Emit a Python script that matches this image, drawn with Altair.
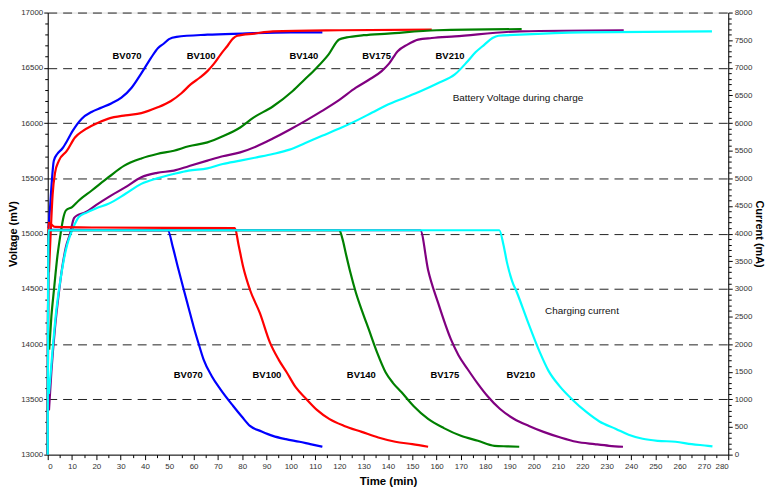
import altair as alt
import pandas as pd

# ---------------- data ----------------
series = ["BV070", "BV100", "BV140", "BV175", "BV210"]
colors = ["#0000FF", "#FF0000", "#008000", "#800080", "#00FFFF"]

# Battery voltage (mV) vs time (min)
v_t = {
    "BV070": [0.3, 1.0, 1.6, 2.5, 3.9, 6.0, 8.0, 10.0, 14.0, 18.0, 22.2, 26.3, 30.3, 34.5, 38.5,
              42.5, 45.4, 47.8, 49.9, 53.0, 65.7, 80.0, 100.0, 113.0],
    "BV100": [0.5, 1.2, 2.0, 3.0, 4.6, 7.9, 11.2, 14.5, 18.1, 25.0, 32.0, 38.5, 45.0, 50.7, 55.0,
              58.8, 62.5, 65.7, 68.5, 71.1, 74.0, 76.3, 78.0, 85.0, 92.6, 120.0, 158.0],
    "BV140": [0.6, 1.5, 2.6, 4.0, 5.3, 6.5, 7.5, 10.0, 12.8, 18.1, 25.0, 31.5, 38.5, 45.0, 51.9,
              58.0, 65.7, 72.0, 79.2, 84.5, 92.6, 100.8, 105.5, 110.5, 115.5, 119.9, 123.0, 130.0,
              140.0, 160.0, 195.0],
    "BV175": [0.5, 1.5, 3.0, 4.5, 6.0, 7.5, 9.2, 10.8, 12.5, 15.3, 20.0, 25.0, 32.0, 38.5, 45.0,
              51.9, 58.0, 65.7, 72.0, 79.2, 86.0, 92.6, 99.5, 106.0, 112.9, 120.0, 126.8, 132.0,
              137.4, 140.5, 144.0, 148.0, 152.4, 158.0, 167.5, 194.3, 237.0],
    "BV210": [0.5, 2.0, 3.5, 5.0, 6.5, 8.0, 9.5, 11.0, 12.8, 16.0, 20.0, 25.0, 32.0, 38.5, 45.0,
              51.9, 58.0, 65.7, 72.0, 79.2, 86.0, 92.6, 99.5, 106.0, 112.9, 120.0, 126.8, 133.5,
              140.2, 147.0, 153.6, 160.5, 167.5, 172.8, 176.0, 179.7, 183.0, 185.5, 194.3, 220.0,
              273.3],
}
v_mv = {
    "BV070": [15050, 15250, 15450, 15660, 15720, 15770, 15840, 15920, 16040, 16100, 16140, 16180,
              16230, 16320, 16450, 16590, 16680, 16720, 16760, 16780, 16800, 16810, 16820, 16820],
    "BV100": [14650, 15000, 15350, 15550, 15660, 15750, 15870, 15930, 15975, 16040, 16070, 16090,
              16140, 16200, 16270, 16350, 16410, 16470, 16540, 16620, 16700, 16766, 16790, 16810,
              16830, 16840, 16845],
    "BV140": [13950, 14250, 14500, 14800, 15000, 15150, 15210, 15240, 15300, 15390, 15510, 15615,
              15680, 15720, 15750, 15790, 15825, 15880, 15960, 16047, 16150, 16290, 16390, 16497,
              16620, 16757, 16775, 16795, 16810, 16840, 16850],
    "BV175": [13400, 13750, 14150, 14450, 14700, 14880, 15000, 15140, 15170, 15190, 15260, 15330,
              15420, 15510, 15550, 15570, 15610, 15660, 15700, 15735, 15790, 15860, 15940, 16020,
              16110, 16210, 16320, 16390, 16470, 16540, 16650, 16710, 16755, 16770, 16785, 16830,
              16840],
    "BV210": [13550, 13950, 14300, 14550, 14750, 14900, 15000, 15080, 15150, 15190, 15230, 15270,
              15360, 15450, 15500, 15540, 15570, 15590, 15630, 15660, 15690, 15720, 15760, 15820,
              15885, 15950, 16020, 16095, 16170, 16230, 16290, 16360, 16440, 16560, 16640, 16710,
              16770, 16790, 16800, 16820, 16830],
}

# Charging current (mA) vs time (min)
i_t = {
    "BV070": [0, 0.25, 49.4, 51.5, 53.5, 56, 58, 60, 62, 64.1, 67.5, 71, 76.3, 80, 83.2, 88, 92.6,
              98, 103.6, 108, 113],
    "BV100": [0, 0.3, 3, 20, 77, 78.5, 80.4, 83.2, 87.3, 91.4, 95, 98.3, 102, 106.4, 111, 115.8,
              122, 129.2, 136, 143, 150, 156.5],
    "BV140": [0, 0.3, 120, 121.3, 122.6, 124.5, 126.8, 129.5, 132.1, 135.5, 139, 142, 145.5,
              150.5, 156.5, 163, 170, 177, 183.8, 189, 194],
    "BV175": [0, 0.3, 153.3, 156.5, 160.6, 165.9, 169, 172.8, 177, 180.9, 186, 191.9, 198, 204,
              211, 217.5, 225, 231, 236.7],
    "BV210": [0, 0.3, 185.8, 187.5, 189, 191, 193.1, 197.2, 202.5, 206, 210.6, 216, 221.6, 227,
              233.8, 239, 244.8, 251, 258.3, 265, 271.7, 273.5],
}
i_ma = {
    "BV070": [0, 4070, 4060, 3750, 3400, 2980, 2650, 2320, 2020, 1725, 1420, 1186, 880, 680, 520,
              420, 340, 280, 233, 190, 143],
    "BV100": [0, 4200, 4120, 4110, 4100, 3800, 3400, 2984, 2560, 2031, 1720, 1491, 1220, 1006,
              800, 646, 520, 412, 310, 233, 190, 143],
    "BV140": [0, 4060, 4060, 3900, 3650, 3300, 2930, 2580, 2265, 1850, 1491, 1300, 1132, 880,
              646, 480, 340, 250, 160, 150, 143],
    "BV175": [0, 4060, 4060, 3343, 2750, 2085, 1800, 1545, 1280, 1060, 830, 646, 520, 412, 310,
              233, 190, 160, 143],
    "BV210": [0, 4060, 4060, 3800, 3470, 3150, 2930, 2444, 1850, 1520, 1240, 990, 772, 600, 466,
              360, 287, 250, 233, 190, 160, 150],
}

# in-plot labels
top_labels = ["BV070", "BV100", "BV140", "BV175", "BV210"]
top_label_t = [32.6, 63.1, 105.4, 135.3, 165.5]
top_label_v = [16604, 16604, 16604, 16604, 16604]
bottom_labels = ["BV070", "BV100", "BV140", "BV175", "BV210"]
bottom_label_t = [57.8, 90.2, 129.0, 163.4, 194.7]
bottom_label_v = [13719, 13719, 13719, 13719, 13719]
captions = ["Battery Voltage during charge", "Charging current"]
caption_t = [193.5, 219.8]
caption_v = [16227, 14297]

# axis ticks
x_ticks = list(range(0, 281, 5))
v_ticks = list(range(13000, 17001, 100))
i_ticks = list(range(0, 8001, 100))

# ---------------- tables ----------------
rows_v, rows_i = [], []
for s in series:
    for k, (t, v) in enumerate(zip(v_t[s], v_mv[s])):
        rows_v.append({"series": s, "t": t, "v": v, "idx": k})
    for k, (t, i) in enumerate(zip(i_t[s], i_ma[s])):
        rows_i.append({"series": s, "t": t, "i": i, "idx": k})
df_v = pd.DataFrame(rows_v)
df_i = pd.DataFrame(rows_i)
df_lab = pd.DataFrame({"text": top_labels + bottom_labels,
                       "t": top_label_t + bottom_label_t,
                       "v": top_label_v + bottom_label_v})
df_cap = pd.DataFrame({"text": captions, "t": caption_t, "v": caption_v})

TICK_FONT = "Liberation Sans Narrow, Liberation Sans, Arial, sans-serif"
FONT = "Liberation Sans, Arial, sans-serif"

x_scale = alt.Scale(domain=[0, 280], nice=False, zero=False)
v_scale = alt.Scale(domain=[13000, 17000], nice=False, zero=False)
i_scale = alt.Scale(domain=[0, 8000], nice=False, zero=False)
color = alt.Color("series:N", scale=alt.Scale(domain=series, range=colors), legend=None)

x_axis = alt.Axis(
    values=x_ticks, format="d",
    labelExpr="datum.value % 10 === 0 ? datum.label : ''",
    tickSize={"condition": {"test": "datum.value % 10 === 0", "value": 5}, "value": 3},
    labelOverlap=False, labelFont=TICK_FONT, labelFontSize=8, labelColor="#333333",
    labelPadding=3, grid=False, domainColor="black", tickColor="black",
    titleFont=FONT, titleFontSize=11.5, titleFontWeight="bold", titleColor="black",
    titlePadding=5,
)
v_axis = alt.Axis(
    values=v_ticks, format="d",
    labelExpr="datum.value % 500 === 0 ? datum.label : ''",
    tickSize={"condition": {"test": "datum.value % 500 === 0", "value": 4}, "value": 3},
    labelOverlap=False, labelFont=TICK_FONT, labelFontSize=8, labelColor="#333333",
    labelPadding=1, domainColor="black", tickColor="black",
    grid=True, gridColor="#222222", gridDash=[9, 6], gridWidth=1,
    gridOpacity={"condition": {"test": "datum.value % 500 === 0 && datum.value > 13000", "value": 1},
                 "value": 0},
    titleFont=FONT, titleFontSize=11, titleFontWeight="bold", titleColor="black",
    titlePadding=2,
)
i_axis = alt.Axis(
    orient="right", values=i_ticks, format="d",
    labelExpr="datum.value % 500 === 0 ? datum.label : ''",
    tickSize={"condition": {"test": "datum.value % 500 === 0", "value": 4}, "value": 3},
    labelOverlap=False, labelFont=TICK_FONT, labelFontSize=8, labelColor="#333333",
    labelPadding=2, domainColor="black", tickColor="black", grid=False,
    titleFont=FONT, titleFontSize=11, titleFontWeight="bold", titleColor="black",
    titlePadding=2,
)

X = alt.X("t:Q", scale=x_scale, axis=x_axis, title="Time (min)")

volt = alt.Chart(df_v).mark_line(strokeWidth=2.2, interpolate="monotone").encode(
    x=X,
    y=alt.Y("v:Q", scale=v_scale, axis=v_axis, title="Voltage (mV)"),
    color=color, detail="series:N", order="idx:Q",
)
curr = alt.Chart(df_i).mark_line(strokeWidth=2.2, interpolate="monotone").encode(
    x=X,
    y=alt.Y("i:Q", scale=i_scale, axis=i_axis, title="Current (mA)"),
    color=color, detail="series:N", order="idx:Q",
)
labels = alt.Chart(df_lab).mark_text(font=FONT, fontSize=9.5, fontWeight="bold", color="black",
                                     align="center", baseline="middle").encode(
    x=X,
    y=alt.Y("v:Q", scale=v_scale, axis=None),
    text="text:N",
)
caps = alt.Chart(df_cap).mark_text(font=FONT, fontSize=10, color="#111111",
                                   align="center", baseline="middle").encode(
    x=X,
    y=alt.Y("v:Q", scale=v_scale, axis=None),
    text="text:N",
)

chart = alt.layer(volt, curr, labels, caps).resolve_scale(y="independent").properties(
    width=685, height=445,
    autosize=alt.AutoSizeParams(type="none"),
    padding={"left": 40, "top": 3, "right": 37, "bottom": 32},
).configure_view(stroke=None).configure(background="white")

chart.save("out.html", embed_options={"renderer": "svg", "actions": False})
